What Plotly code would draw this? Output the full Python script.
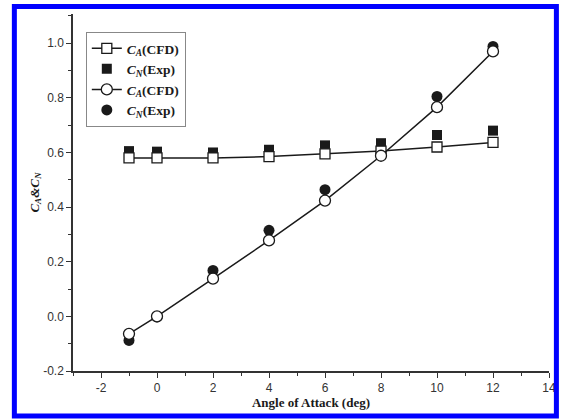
import plotly.graph_objects as go

# ---- data ----
alpha = [-1, 0, 2, 4, 6, 8, 10, 12]
ca_cfd = [0.580, 0.580, 0.580, 0.585, 0.595, 0.605, 0.620, 0.637]
cn_exp_sq = [0.605, 0.603, 0.600, 0.610, 0.626, 0.634, 0.664, 0.680]
cn_cfd = [-0.064, 0.000, 0.138, 0.278, 0.424, 0.588, 0.766, 0.970]
cn_exp_ci = [-0.088, -0.002, 0.168, 0.315, 0.464, 0.598, 0.805, 0.988]

names = [
    "<b><i>C</i><sub><i>A</i></sub>(CFD)</b>",
    "<b><i>C</i><sub><i>N</i></sub>(Exp)</b>",
    "<b><i>C</i><sub><i>A</i></sub>(CFD)</b>",
    "<b><i>C</i><sub><i>N</i></sub>(Exp)</b>",
]
x_ticks = [-2, 0, 2, 4, 6, 8, 10, 12, 14]
y_ticks = [-0.2, 0.0, 0.2, 0.4, 0.6, 0.8, 1.0]

W, H = 568, 420
L, R, T, B = 73, 12, 14, 49
pw, ph = W - L - R, H - T - B

INK = "#1a1a1a"
serif = "Liberation Serif, Times New Roman, serif"
sans = "Liberation Sans, Arial, sans-serif"

fig = go.Figure()
fig.add_trace(go.Scatter(x=alpha, y=cn_exp_sq, mode="markers", name=names[1], legendrank=2,
                         marker=dict(symbol="square", size=10, color=INK, line=dict(width=0))))
fig.add_trace(go.Scatter(x=alpha, y=cn_exp_ci, mode="markers", name=names[3], legendrank=4,
                         marker=dict(symbol="circle", size=11, color=INK, line=dict(width=0))))
fig.add_trace(go.Scatter(x=alpha, y=ca_cfd, mode="lines+markers", name=names[0], legendrank=1,
                         line=dict(color=INK, width=1.5),
                         marker=dict(symbol="square", size=10, color="white", line=dict(color=INK, width=1.3))))
fig.add_trace(go.Scatter(x=alpha, y=cn_cfd, mode="lines+markers", name=names[2], legendrank=3,
                         line=dict(color=INK, width=1.5),
                         marker=dict(symbol="circle", size=11, color="white", line=dict(color=INK, width=1.3))))

def px_x(p):
    return (p - L) / pw

def px_y(p):
    return (H - B - p) / ph

fig.add_shape(type="rect", xref="paper", yref="paper",
              x0=px_x(13.5), x1=px_x(563.5), y0=px_y(416), y1=px_y(6.5),
              line=dict(color="#0000ff", width=5), fillcolor="rgba(0,0,0,0)", layer="above")

axis_common = dict(showgrid=False, zeroline=False, showline=True, linecolor="#333", linewidth=1.5,
                   ticks="outside", ticklen=5, tickwidth=1.3, tickcolor="#333",
                   tickfont=dict(family=sans, size=12, color="#333"))

fig.update_layout(
    width=W, height=H,
    margin=dict(l=L, r=R, t=T, b=B),
    paper_bgcolor="white", plot_bgcolor="white",
    showlegend=True,
    legend=dict(x=px_x(86), y=px_y(32), xanchor="left", yanchor="top",
                bordercolor="#888", borderwidth=1, bgcolor="white",
                font=dict(family=serif, size=13.5, color=INK),
                itemwidth=30, tracegroupgap=0),
    xaxis=dict(range=[-3, 14], tickvals=x_ticks, ticktext=[str(v) for v in x_ticks],
               minor=dict(ticks="outside", ticklen=3, dtick=1, tick0=0, tickcolor="#333", tickwidth=1.2),
               title=dict(text="<b>Angle of Attack (deg)</b>", font=dict(family=serif, size=13, color=INK), standoff=4),
               **axis_common),
    yaxis=dict(range=[-0.2, 1.107], tickvals=y_ticks, ticktext=[f"{v:.1f}" for v in y_ticks],
               minor=dict(ticks="outside", ticklen=3, dtick=0.1, tick0=0, tickcolor="#333", tickwidth=1.2),
               title=dict(text="<b><i>C<sub>A</sub>&amp;C<sub>N</sub></i></b>", font=dict(family=serif, size=13, color=INK), standoff=1),
               **axis_common),
)

fig.write_html("out.html", config={"displayModeBar": False},
               post_script="document.body.style.margin='0';document.body.style.overflow='hidden';")
